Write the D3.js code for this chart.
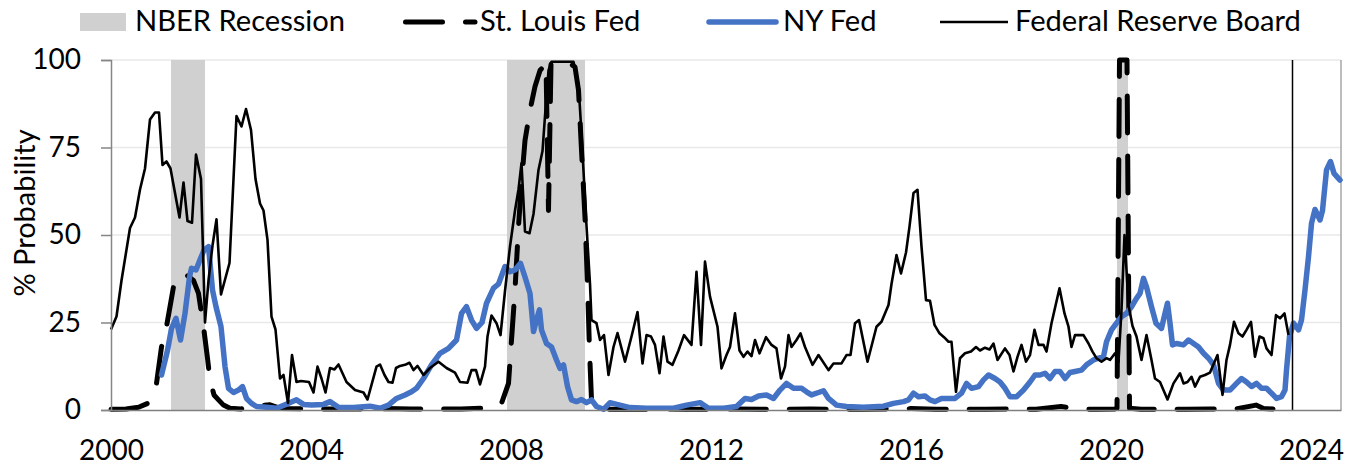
<!DOCTYPE html>
<html>
<head>
<meta charset="utf-8">
<script src="https://cdnjs.cloudflare.com/ajax/libs/d3/7.8.5/d3.min.js"></script>
<style>
body { margin: 0; background: #fff; }
text { font-family: Lato, "Open Sans", sans-serif; fill: #000; }
</style>
</head>
<body>
<svg class="chart"></svg>
<script>
// NBER recession spans, [start, end] in fractional years
var recessions = [[2001.2, 2001.88], [2007.92, 2009.48], [2020.12, 2020.34]];

// [fractional year, % probability]
var stLouis = [
    [2000.0,0.2],[2000.3,0.3],[2000.55,0.8],[2000.75,2],[2000.91,7.6],[2001.01,18],[2001.11,23.8],
    [2001.25,35.2],[2001.41,39],[2001.51,38.6],[2001.65,37],[2001.75,33.3],[2001.85,23.8],[2001.93,14.8],
    [2001.98,8.6],[2002.06,4.3],[2002.15,2.9],[2002.25,1.4],[2002.38,0.5],[2002.6,0.3],[2002.91,1.2],
    [2003.18,1.5],[2003.4,0.4],[2004.0,0.3],[2004.5,0.3],[2005.0,0.3],[2005.5,0.4],[2006.0,0.3],
    [2006.5,0.3],[2007.0,0.3],[2007.4,0.5],[2007.65,1],[2007.81,1.9],[2007.95,7.6],[2008.01,20],
    [2008.08,34.3],[2008.15,52.4],[2008.21,64.8],[2008.28,77],[2008.38,85.7],[2008.48,92.4],[2008.58,97],
    [2008.7,99],[2008.75,57],[2008.8,99],[2008.98,99],[2009.18,99],[2009.28,98],[2009.35,91.4],
    [2009.41,74.3],[2009.48,55],[2009.53,36],[2009.57,17],[2009.61,2.9],[2009.68,0.5],[2010.0,0.2],
    [2010.5,0.2],[2011.0,0.3],[2011.5,0.2],[2012.0,0.2],[2012.5,0.3],[2013.0,0.2],[2013.5,0.2],
    [2014.0,0.3],[2014.5,0.2],[2015.0,0.2],[2015.5,0.3],[2016.0,0.4],[2016.5,0.2],[2017.0,0.2],
    [2017.5,0.2],[2018.0,0.3],[2018.5,0.2],[2019.0,1],[2019.3,0.3],[2019.7,0.2],[2020.08,0.3],
    [2020.12,0.5],[2020.17,100],[2020.25,100],[2020.32,100],[2020.37,0.5],[2020.6,0.2],[2021.0,0.2],
    [2021.5,0.2],[2022.0,0.3],[2022.5,0.3],[2022.9,1.4],[2023.05,0.4],[2023.25,0.3]
];

var nyFed = [
    [2001.01,10],[2001.13,17],[2001.21,23.3],[2001.30,26.2],[2001.39,20],[2001.48,27.6],[2001.57,38],
    [2001.61,40.5],[2001.70,40],[2001.78,42.9],[2001.86,45.7],[2001.95,46.7],[2002.03,34.3],[2002.10,29.5],
    [2002.20,23.8],[2002.28,12.4],[2002.35,6.2],[2002.45,5],[2002.55,5.7],[2002.63,6.7],[2002.71,3.3],
    [2002.81,1.9],[2002.91,1],[2003.11,0.8],[2003.31,0.5],[2003.55,1.9],[2003.71,2.9],[2003.85,1.6],
    [2004.01,1.4],[2004.25,1.6],[2004.38,2.4],[2004.55,0.8],[2004.85,0.7],[2005.18,1.1],[2005.38,0.5],
    [2005.55,1.4],[2005.71,3.3],[2005.88,4.3],[2006.01,5.2],[2006.11,6.2],[2006.25,9],[2006.41,12.9],
    [2006.58,16.2],[2006.75,17.6],[2006.91,20],[2007.01,27.6],[2007.11,29.5],[2007.21,25.7],[2007.31,23.3],
    [2007.42,25],[2007.51,30.5],[2007.65,34.8],[2007.75,36],[2007.88,41],[2007.98,39.5],[2008.08,40],
    [2008.19,41.9],[2008.28,38],[2008.38,33.3],[2008.45,22.4],[2008.51,25.7],[2008.57,28.6],[2008.61,22.9],
    [2008.71,19],[2008.81,18],[2008.91,14.3],[2008.98,11.9],[2009.05,12.9],[2009.13,6.7],[2009.21,2.9],
    [2009.31,2.4],[2009.41,3],[2009.51,2.1],[2009.61,2.9],[2009.71,1],[2009.85,0.2],[2009.98,2.1],
    [2010.18,1.4],[2010.38,0.7],[2010.71,0.5],[2011.25,0.5],[2011.51,1.4],[2011.78,2.1],[2011.95,0.5],
    [2012.25,0.5],[2012.51,1],[2012.68,3.3],[2012.81,3],[2012.95,4],[2013.11,4.3],[2013.25,3.3],
    [2013.38,5.7],[2013.51,7.6],[2013.65,6.2],[2013.81,6.2],[2013.91,5.2],[2014.01,4.3],[2014.15,5],
    [2014.25,5.5],[2014.35,3.3],[2014.51,1.4],[2014.71,1],[2015.05,0.8],[2015.45,1.1],[2015.65,1.9],
    [2015.85,2.4],[2015.95,2.9],[2016.05,4.8],[2016.15,3.8],[2016.28,4],[2016.38,2.9],[2016.48,2.4],
    [2016.61,3.3],[2016.75,3.3],[2016.88,3.3],[2017.01,4.8],[2017.11,7.6],[2017.21,6.2],[2017.35,6.7],
    [2017.45,8.6],[2017.55,10],[2017.68,9],[2017.78,8],[2017.88,6.2],[2017.98,3.8],[2018.11,3.8],
    [2018.25,5.7],[2018.38,8],[2018.48,10],[2018.58,10],[2018.68,10.5],[2018.78,9],[2018.88,11],
    [2018.98,11],[2019.08,9],[2019.18,10.7],[2019.28,11],[2019.41,11.4],[2019.51,12.9],[2019.65,14.3],
    [2019.75,14.8],[2019.85,15.2],[2019.91,19.5],[2020.01,22.9],[2020.11,24.8],[2020.21,26.7],[2020.31,27.6],
    [2020.41,29.5],[2020.51,31.9],[2020.58,33.3],[2020.65,37.6],[2020.71,35.2],[2020.81,29.5],[2020.90,24.8],
    [2021.01,23.3],[2021.08,27.6],[2021.13,30.5],[2021.18,24.8],[2021.23,18.6],[2021.31,19],[2021.45,18.6],
    [2021.55,20],[2021.65,19],[2021.75,18],[2021.85,16.2],[2021.95,14.8],[2022.05,12.9],[2022.15,7.6],
    [2022.25,5.7],[2022.38,5.7],[2022.51,7.6],[2022.61,9],[2022.71,8],[2022.81,6.7],[2022.91,7.6],
    [2023.01,6.2],[2023.11,6.2],[2023.21,4.8],[2023.31,3.3],[2023.41,3.8],[2023.48,5.7],[2023.51,11.4],
    [2023.57,21],[2023.65,24.8],[2023.75,22.9],[2023.81,25.7],[2023.88,34.3],[2023.95,43.8],[2024.01,53.3],
    [2024.08,57.3],[2024.18,54.3],[2024.23,57],[2024.31,68.6],[2024.39,71],[2024.46,67.6],[2024.58,65.7]
];

var frb = [
    [2000.00,23],[2000.11,26.7],[2000.21,37],[2000.38,52],[2000.48,55],[2000.58,63],[2000.68,69],
    [2000.78,83],[2000.88,85],[2000.96,85],[2001.03,70],[2001.11,71],[2001.19,69],[2001.37,55],
    [2001.45,65],[2001.53,54],[2001.62,53.5],[2001.70,73],[2001.80,66],[2001.88,25],[2001.95,37],
    [2002.03,47],[2002.11,54.5],[2002.20,33],[2002.37,42],[2002.51,84],[2002.61,81],[2002.70,86],
    [2002.80,80],[2002.89,66],[2002.98,59],[2003.05,57],[2003.13,48.6],[2003.21,26.7],[2003.29,23],
    [2003.38,9],[2003.45,10],[2003.54,2],[2003.62,15.7],[2003.71,8],[2003.80,8.3],[2003.96,8],
    [2004.05,5],[2004.13,12.4],[2004.21,9],[2004.29,5],[2004.38,12],[2004.47,11.6],[2004.55,13],
    [2004.71,8],[2004.88,5.7],[2005.05,5],[2005.13,3],[2005.31,12.4],[2005.38,13],[2005.47,10],
    [2005.55,8],[2005.63,7.8],[2005.70,12],[2005.78,12.6],[2005.88,12.9],[2005.97,13.5],[2006.05,11.4],
    [2006.13,12.6],[2006.25,10],[2006.38,12],[2006.55,13.8],[2006.71,12],[2006.88,10.7],[2006.98,8],
    [2007.13,7.8],[2007.21,11.4],[2007.30,11.4],[2007.38,7.3],[2007.48,12.4],[2007.53,21],[2007.61,27],
    [2007.71,24.8],[2007.79,21.4],[2007.88,34],[2007.98,46.7],[2008.08,57],[2008.15,63],[2008.21,70.5],
    [2008.28,51],[2008.37,50.5],[2008.45,56],[2008.55,68.6],[2008.63,74],[2008.68,84],[2008.75,97],
    [2008.81,99.5],[2008.95,99.5],[2009.1,99.5],[2009.25,99.5],[2009.35,93],[2009.41,79],[2009.50,55],
    [2009.58,36],[2009.61,25.7],[2009.71,24.8],[2009.78,20],[2009.86,21.4],[2009.95,10],[2010.05,18],
    [2010.13,22],[2010.28,13.8],[2010.41,21],[2010.53,28],[2010.63,13.3],[2010.71,21.4],[2010.80,21],
    [2010.88,18.6],[2010.97,10.5],[2011.05,21],[2011.13,13.8],[2011.23,12.9],[2011.35,17],[2011.46,21.4],
    [2011.61,18.6],[2011.71,39.5],[2011.80,18.6],[2011.88,42.4],[2011.98,32.4],[2012.13,23.8],[2012.21,11.9],
    [2012.31,15.7],[2012.38,18],[2012.48,27.6],[2012.57,17],[2012.65,15.2],[2012.73,16.7],[2012.81,15.4],
    [2012.88,20],[2012.97,16.2],[2013.10,20.8],[2013.21,18.6],[2013.31,17.6],[2013.40,9],[2013.48,12.4],
    [2013.55,21.4],[2013.61,18],[2013.71,20],[2013.79,21.9],[2013.88,18],[2014.03,12.9],[2014.15,15.7],
    [2014.35,11.4],[2014.45,13.3],[2014.61,13.3],[2014.71,15.7],[2014.79,15.7],[2014.88,24.8],[2014.96,25.7],
    [2015.13,13.8],[2015.31,23.8],[2015.41,25.2],[2015.55,30],[2015.61,36],[2015.71,44.3],[2015.80,39],
    [2015.90,45],[2015.97,52.4],[2016.05,62],[2016.13,62.9],[2016.21,46.7],[2016.30,31.4],[2016.38,31.2],
    [2016.47,24.3],[2016.57,21.9],[2016.66,20.8],[2016.75,19.5],[2016.81,19.5],[2016.90,5.2],[2016.98,14.8],
    [2017.08,16.2],[2017.20,16.7],[2017.30,18],[2017.38,17],[2017.48,17.8],[2017.57,17.3],[2017.65,19],
    [2017.73,14.3],[2017.88,17.6],[2017.97,15.7],[2018.05,11],[2018.13,15.2],[2018.21,18.6],[2018.30,13.8],
    [2018.38,15.7],[2018.47,22.9],[2018.55,18.6],[2018.65,18.6],[2018.71,16.7],[2018.81,24.8],[2018.97,34.8],
    [2019.07,27.6],[2019.15,23.8],[2019.21,18],[2019.28,21.4],[2019.45,21.4],[2019.55,19],[2019.63,16.7],
    [2019.71,14.8],[2019.81,13.8],[2019.91,14.8],[2019.98,14.3],[2020.08,16.2],[2020.15,13.8],[2020.21,28.6],
    [2020.27,50],[2020.35,30],[2020.43,24],[2020.51,21],[2020.61,14.3],[2020.71,21.4],[2020.81,14.3],
    [2020.88,9],[2020.98,8],[2021.13,3],[2021.25,7.6],[2021.38,10.5],[2021.45,7.6],[2021.53,8],
    [2021.61,9.5],[2021.68,6.7],[2021.78,9.5],[2021.88,10],[2021.98,10.7],[2022.13,15.7],[2022.23,4.3],
    [2022.31,14.3],[2022.38,18.6],[2022.46,25.2],[2022.55,21.9],[2022.63,21],[2022.71,22.9],[2022.80,25.2],
    [2022.88,15.2],[2022.97,21],[2023.05,20.5],[2023.11,17.6],[2023.21,15.7],[2023.30,27.1],[2023.38,26.2],
    [2023.47,27.6],[2023.55,21.4]
];

var forecastStart = 2023.63;
var yTicks = [0, 25, 50, 75, 100];
var xTicks = [2000, 2004, 2008, 2012, 2016, 2020, 2024];
var legendItems = ["NBER Recession", "St. Louis Fed", "NY Fed", "Federal Reserve Board"];

var margin = {top: 60, right: 17, bottom: 55, left: 111};
var width = 1358 - margin.left - margin.right;
var height = 465 - margin.top - margin.bottom;

var svg = d3.select(".chart")
    .attr("width", 1358)
    .attr("height", 465);

var chart = svg.append("g")
    .attr("transform", "translate(" + margin.left + "," + margin.top + ")");

var xChart = d3.scaleLinear().domain([2000, 2024.6]).range([0, width]);
var yChart = d3.scaleLinear().domain([0, 100]).range([height, 0]);

// gridlines
chart.selectAll(".grid")
    .data(yTicks.filter(function(d){ return d > 0; }))
    .enter().append("line")
    .attr("x1", 0).attr("x2", width)
    .attr("y1", function(d){ return yChart(d); })
    .attr("y2", function(d){ return yChart(d); })
    .attr("stroke", "#e9e9e9")
    .attr("stroke-width", 1.5);

// recession bands
chart.selectAll(".rec")
    .data(recessions)
    .enter().append("rect")
    .attr("x", function(d){ return xChart(d[0]); })
    .attr("width", function(d){ return xChart(d[1]) - xChart(d[0]); })
    .attr("y", 0)
    .attr("height", height)
    .attr("fill", "#d0d0d0");

// right border
chart.append("line")
    .attr("x1", width).attr("x2", width)
    .attr("y1", 0).attr("y2", height)
    .attr("stroke", "#a6a6a6").attr("stroke-width", 1.5);

var line = d3.line()
    .x(function(d){ return xChart(d[0]); })
    .y(function(d){ return yChart(d[1]); });

chart.append("path")
    .datum(stLouis)
    .attr("d", line)
    .attr("fill", "none")
    .attr("stroke", "#000")
    .attr("stroke-width", 5)
    .attr("stroke-linecap", "round")
    .attr("stroke-linejoin", "round")
    .attr("stroke-dasharray", "37,23");

chart.append("path")
    .datum(nyFed)
    .attr("d", line)
    .attr("fill", "none")
    .attr("stroke", "#4472c4")
    .attr("stroke-width", 5.5)
    .attr("stroke-linecap", "round")
    .attr("stroke-linejoin", "round");

chart.append("path")
    .datum(frb)
    .attr("d", line)
    .attr("fill", "none")
    .attr("stroke", "#000")
    .attr("stroke-width", 2.6)
    .attr("stroke-linejoin", "round");

// forecast start marker
chart.append("line")
    .attr("x1", xChart(forecastStart)).attr("x2", xChart(forecastStart))
    .attr("y1", 0).attr("y2", height)
    .attr("stroke", "#000").attr("stroke-width", 1.5);

// axes
var yAxis = d3.axisLeft(yChart).tickValues(yTicks).tickSize(10).tickPadding(20);
var xAxis = d3.axisBottom(xChart).tickValues(xTicks).tickFormat(d3.format("d")).tickSize(0).tickPadding(30);

var gy = chart.append("g").call(yAxis);
gy.select(".domain").attr("stroke", "#868686").attr("stroke-width", 1.5);
gy.selectAll(".tick line").attr("stroke", "#868686").attr("stroke-width", 1.5);
gy.selectAll("text").style("font-size", "28px").style("font-family", "Lato");

var gx = chart.append("g")
    .attr("transform", "translate(0," + height + ")")
    .call(xAxis);
gx.select(".domain").attr("stroke", "#7f7f7f").attr("stroke-width", 1.5);
gx.selectAll("text").style("font-size", "28px").style("font-family", "Lato");

svg.append("text")
    .attr("transform", "translate(23,213) rotate(-90)")
    .attr("text-anchor", "middle")
    .attr("dominant-baseline", "central")
    .style("font-size", "29px")
    .text("% Probability");

// legend
var legend = svg.append("g");
legend.append("rect")
    .attr("x", 80).attr("y", 13).attr("width", 46).attr("height", 18)
    .attr("fill", "#d0d0d0");
legend.append("line")
    .attr("x1", 405.5).attr("x2", 475).attr("y1", 22).attr("y2", 22)
    .attr("stroke", "#000").attr("stroke-width", 5)
    .attr("stroke-linecap", "round").attr("stroke-dasharray", "37,23");
legend.append("line")
    .attr("x1", 709).attr("x2", 776).attr("y1", 22).attr("y2", 22)
    .attr("stroke", "#4472c4").attr("stroke-width", 5.5)
    .attr("stroke-linecap", "round");
legend.append("line")
    .attr("x1", 940).attr("x2", 1008).attr("y1", 22).attr("y2", 22)
    .attr("stroke", "#000").attr("stroke-width", 2.6);

var legendX = [135, 480, 783, 1015];
legend.selectAll(".ltext")
    .data(legendItems)
    .enter().append("text")
    .attr("transform", function(d, i){ return "translate(" + legendX[i] + ",31) scale(1.04,1)"; })
    .style("font-size", "28px")
    .text(function(d){ return d; });
</script>
</body>
</html>
